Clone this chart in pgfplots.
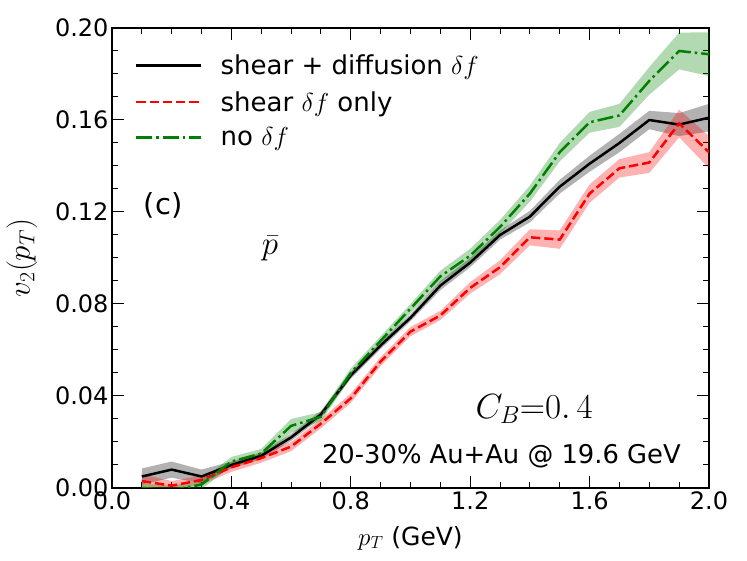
\RequirePackage{fix-cm}
\documentclass[border=0pt]{standalone}
\usepackage{fontspec}
\setmainfont{DejaVu Sans}
\usepackage{pgfplots}
\pgfplotsset{compat=1.18}
\usepgfplotslibrary{fillbetween}
\usepackage{pgfplotstable}

\pgfplotstableread{
pt  b      be      r       re      g       ge
0.1 0.005  0.0035  0.003   0.003   0.000   0.002
0.2 0.008  0.0035  0.001   0.002   -0.001  0.002
0.3 0.005  0.003   0.0035  0.002   0.0015  0.002
0.4 0.010  0.0015  0.009   0.002   0.0115  0.002
0.5 0.014  0.0015  0.013   0.002   0.015   0.002
0.6 0.022  0.0015  0.018   0.002   0.027   0.003
0.7 0.032  0.0015  0.028   0.002   0.031   0.002
0.8 0.049  0.0015  0.039   0.002   0.050   0.002
0.9 0.062  0.0015  0.055   0.002   0.064   0.002
1.0 0.074  0.0015  0.068   0.002   0.078   0.002
1.1 0.088  0.002   0.075   0.002   0.092   0.0025
1.2 0.098  0.002   0.087   0.0025  0.101   0.003
1.3 0.110  0.002   0.096   0.003   0.1135  0.003
1.4 0.118  0.0025  0.109   0.0035  0.128   0.0035
1.5 0.131  0.003   0.108   0.004   0.146   0.004
1.6 0.141  0.0035  0.128   0.004   0.159   0.0045
1.7 0.150  0.004   0.139   0.004   0.162   0.005
1.8 0.160  0.004   0.1415  0.0045  0.177   0.006
1.9 0.158  0.005   0.1585  0.006   0.190   0.008
2.0 0.161  0.006   0.146   0.007   0.1886  0.0095
}\data

\definecolor{mplgreen}{rgb}{0,0.5,0}

\begin{document}
\begin{tikzpicture}
\begin{axis}[
  scale only axis, width=597pt, height=460pt,
  xmin=0, xmax=2, ymin=0, ymax=0.2,
  xtick={0,0.4,0.8,1.2,1.6,2.0},
  ytick={0,0.04,0.08,0.12,0.16,0.2},
  minor x tick num=3, minor y tick num=3,
  scaled y ticks=false, scaled x ticks=false,
  tick align=inside, xtick pos=both, ytick pos=both,
  xticklabel pos=lower, yticklabel pos=left,
  major tick length=12pt, minor tick length=6pt,
  every tick/.style={black, line width=1pt},
  axis line style={line width=1.5pt},
  /pgf/number format/assume math mode=true,
  x tick label style={/pgf/number format/fixed,/pgf/number format/fixed zerofill,/pgf/number format/precision=1},
  y tick label style={/pgf/number format/fixed,/pgf/number format/fixed zerofill,/pgf/number format/precision=2},
  tick label style={font=\fontsize{24}{28}\selectfont},
  xlabel={$p_T$ (GeV)},
  ylabel={$v_2(p_T)$},
  xlabel style={font=\fontsize{25}{30}\selectfont, at={(axis description cs:0.5,-0.1087)}, anchor=center},
  ylabel style={font=\fontsize{31}{36}\selectfont, at={(axis description cs:-0.1508,0.5)}, anchor=center},
  legend style={at={(rel axis cs:0.0385,0.946)}, anchor=north west, draw=none, fill=none,
    font=\fontsize{26}{30}\selectfont, row sep=11pt, column sep=16pt, inner sep=0pt},
  legend cell align=left,
  legend image code/.code={\draw[#1] (0pt,0pt) -- (65pt,0pt);},
]
\coordinate (ll) at (rel axis cs:0,0);
% black band + line
\addplot[name path=bu, draw=none, forget plot] table[x=pt, y expr=\thisrow{b}+\thisrow{be}] {\data};
\addplot[name path=bl, draw=none, forget plot] table[x=pt, y expr=\thisrow{b}-\thisrow{be}] {\data};
\addplot[black, fill opacity=0.3, draw=none, forget plot] fill between[of=bu and bl];
\addplot[black, line width=2.5pt, line join=round] table[x=pt, y=b] {\data};
\addlegendentry{shear + diffusion $\delta f$}
% red band + line
\addplot[name path=ru, draw=none, forget plot] table[x=pt, y expr=\thisrow{r}+\thisrow{re}] {\data};
\addplot[name path=rl, draw=none, forget plot] table[x=pt, y expr=\thisrow{r}-\thisrow{re}] {\data};
\addplot[red, fill opacity=0.3, draw=none, forget plot] fill between[of=ru and rl];
\addplot[red, line width=2.5pt, dash pattern=on 9.25pt off 4pt] table[x=pt, y=r] {\data};
\addlegendentry{shear $\delta f$ only}
% green band + line
\addplot[name path=gu, draw=none, forget plot] table[x=pt, y expr=\thisrow{g}+\thisrow{ge}] {\data};
\addplot[name path=gl, draw=none, forget plot] table[x=pt, y expr=\thisrow{g}-\thisrow{ge}] {\data};
\addplot[mplgreen, fill opacity=0.3, draw=none, forget plot] fill between[of=gu and gl];
\addplot[mplgreen, line width=2.5pt, dash pattern=on 16pt off 4pt on 2.5pt off 4pt] table[x=pt, y=g] {\data};
\addlegendentry{no $\delta f$}

\node[font=\fontsize{29}{34}\selectfont] at (axis cs:0.171,0.123) {(c)};
\node[font=\fontsize{33}{38}\selectfont] at (axis cs:0.529,0.1043) {$\bar{p}$};
\node[font=\fontsize{35}{40}\selectfont] at (axis cs:1.414,0.0343) {$C_B{=}0.\,4$};
\node[font=\fontsize{25.8}{30}\selectfont] at (axis cs:1.3045,0.0138) {20-30\% Au+Au @ 19.6 GeV};
\end{axis}
\pgfresetboundingbox
\useasboundingbox ([shift={(-112pt,-73pt)}]ll) rectangle ([shift={(635pt,488pt)}]ll);
\end{tikzpicture}
\end{document}
